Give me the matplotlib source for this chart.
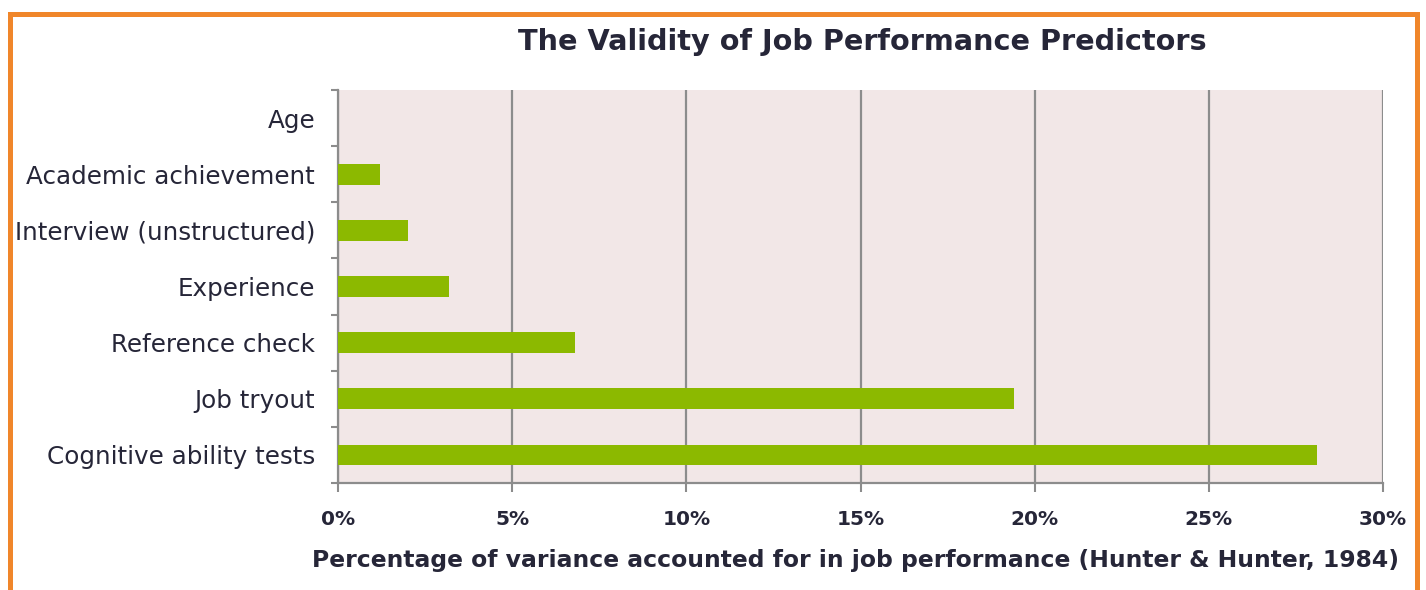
import matplotlib
matplotlib.use("Agg")
import matplotlib.pyplot as plt
from matplotlib.lines import Line2D
import numpy as np

categories = ["Age", "Academic achievement", "Interview (unstructured)", "Experience",
              "Reference check", "Job tryout", "Cognitive ability tests"]
values = [0.0, 1.2, 2.0, 3.2, 6.8, 19.4, 28.1]
xticks = [0, 5, 10, 15, 20, 25, 30]
xtick_labels = ["0%", "5%", "10%", "15%", "20%", "25%", "30%"]
title = "The Validity of Job Performance Predictors"
xlabel = "Percentage of variance accounted for in job performance (Hunter & Hunter, 1984)"

plt.rcParams['font.family'] = ['DejaVu Sans']
W, H = 1426, 590
fig = plt.figure(figsize=(W / 100, H / 100), dpi=100)
fig.patch.set_facecolor("white")

L, R, T, B = 338, 1383, 90, 483
ax = fig.add_axes([L / W, 1 - B / H, (R - L) / W, (B - T) / H])
ax.set_facecolor("#F2E7E7")

txt = "#262638"
grid_c = "#8C8C8C"

y = np.arange(len(categories))
ax.barh(y, values, height=0.37, color="#8CB900", zorder=3)
ax.set_xlim(0, 30)
ax.set_ylim(len(categories) - 0.5, -0.5)

ax.set_xticks(xticks)
ax.set_xticklabels(xtick_labels, fontsize=14.5, fontweight="bold", color=txt)
ax.tick_params(axis="x", length=6.5, width=1.5, color=grid_c, pad=13)

ax.set_yticks(np.arange(-0.5, len(categories), 1.0))
ax.set_yticklabels([])
ax.set_yticks(y, minor=True)
ax.set_yticklabels(categories, minor=True, fontsize=17.7, color=txt)
ax.tick_params(axis="y", which="major", length=5, width=1.5, color=grid_c)
ax.tick_params(axis="y", which="minor", length=0, pad=16.5)

ax.grid(axis="x", color=grid_c, linewidth=1.6, zorder=1)
ax.grid(axis="y", visible=False)
ax.spines["top"].set_visible(False)
ax.spines["right"].set_visible(False)
for s in ["left", "bottom"]:
    ax.spines[s].set_color(grid_c)
    ax.spines[s].set_linewidth(1.6)

fig.text(862 / W, 1 - 42 / H, title, ha="center", va="center", fontsize=20.7,
         fontweight="bold", color=txt)
fig.text(855 / W, 1 - 561 / H, xlabel, ha="center", va="center", fontsize=16.9,
         fontweight="bold", color=txt)

orange = "#F0862A"
lw = 3.6
fig.add_artist(Line2D([9.5 / W, 9.5 / W], [0, 1 - 13.5 / H], color=orange, lw=lw,
                      transform=fig.transFigure))
fig.add_artist(Line2D([9.5 / W, 1416.5 / W], [1 - 13.5 / H, 1 - 13.5 / H], color=orange,
                      lw=lw, transform=fig.transFigure, solid_capstyle="projecting"))
fig.add_artist(Line2D([1416.5 / W, 1416.5 / W], [0, 1 - 13.5 / H], color=orange, lw=lw,
                      transform=fig.transFigure))

fig.savefig("out.png", dpi=100)
